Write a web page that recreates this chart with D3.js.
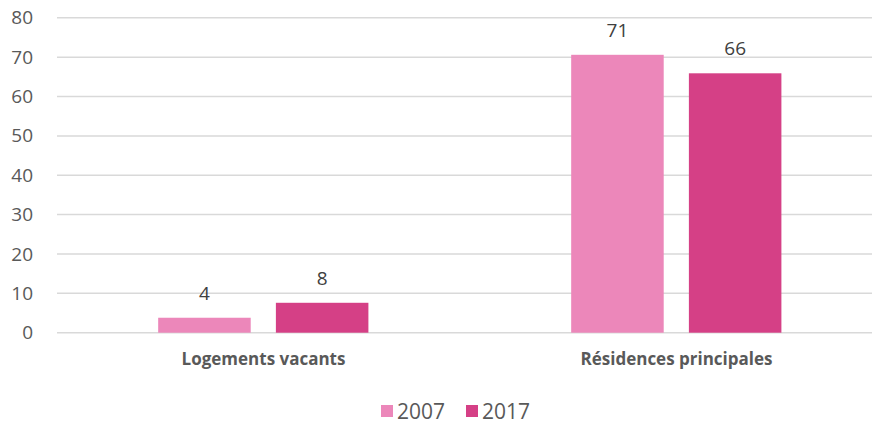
<!DOCTYPE html>
<html>
<head>
<meta charset="utf-8">
<script src="https://cdn.jsdelivr.net/npm/d3@7"></script>
<style>
  body { margin: 0; background: #fff; }
  text { font-family: "Open Sans", sans-serif; }
</style>
</head>
<body>
<svg id="chart"></svg>
<script>
var categories = ["Logements vacants", "Résidences principales"];
var years = ["2007", "2017"];
var values2007 = [3.8, 70.6];
var values2017 = [7.6, 65.9];
var yTicks = [0, 10, 20, 30, 40, 50, 60, 70, 80];
var colors = ["#EC87BA", "#D54086"];

var width = 872, height = 423;
var svg = d3.select("#chart").attr("width", width).attr("height", height);

var x = d3.scaleBand().domain(categories).range([57, 883])
          .paddingInner(0).paddingOuter(0);
var x1 = d3.scaleBand().domain(years).range([x.bandwidth() * 0.245, x.bandwidth() * 0.754])
          .paddingInner(0.214);
var y = d3.scaleLinear().domain([0, 80]).range([332.7, 17.8]);

// gridlines
svg.append("g").selectAll("line")
  .data(yTicks).enter().append("line")
  .attr("x1", 57).attr("x2", width)
  .attr("y1", function(d) { return y(d); })
  .attr("y2", function(d) { return y(d); })
  .style("stroke", "#D9D9D9").style("stroke-width", 1.5);

// y axis labels
var yAxis = d3.axisLeft(y).tickValues(yTicks).tickSize(0).tickPadding(0);
var ya = svg.append("g").attr("transform", "translate(33,0)").call(yAxis);
ya.select(".domain").remove();
ya.selectAll("text").style("font-size", "19px").style("fill", "#595959")
  .style("font-family", "'Open Sans', sans-serif");

var rows = categories.map(function(c, i) {
  return { cat: c, vals: [values2007[i], values2017[i]] };
});

var groups = svg.append("g").selectAll("g")
  .data(rows).enter().append("g")
  .attr("transform", function(d) { return "translate(" + x(d.cat) + ",0)"; });

groups.selectAll("rect")
  .data(function(d) { return d.vals.map(function(v, j) { return { year: years[j], v: v, j: j }; }); })
  .enter().append("rect")
  .attr("x", function(d) { return x1(d.year); })
  .attr("width", x1.bandwidth())
  .attr("y", function(d) { return y(d.v); })
  .attr("height", function(d) { return y(0) - y(d.v); })
  .style("fill", function(d) { return colors[d.j]; });

groups.selectAll("text.lbl")
  .data(function(d) { return d.vals.map(function(v, j) { return { year: years[j], v: v }; }); })
  .enter().append("text")
  .attr("class", "lbl")
  .attr("x", function(d) { return x1(d.year) + x1.bandwidth() / 2; })
  .attr("y", function(d) { return y(d.v) - 18; })
  .attr("text-anchor", "middle")
  .style("font-size", "19px").style("fill", "#404040")
  .text(function(d) { return Math.round(d.v); });

// category labels
var xAxis = d3.axisBottom(x).tickSize(0).tickPadding(0);
var xa = svg.append("g").attr("transform", "translate(0,353)").call(xAxis);
xa.select(".domain").remove();
xa.selectAll("text").style("font-size", "17px").style("font-weight", "bold")
  .style("fill", "#595959").style("font-family", "'Open Sans', sans-serif");
// centre labels on the bar groups
xa.selectAll(".tick").attr("transform", function(d) {
  return "translate(" + (x(d) + x.bandwidth() / 2) + ",0)";
});

// legend
var legend = svg.append("g").attr("transform", "translate(381,405)");
var lx = [0, 85];
years.forEach(function(yr, i) {
  legend.append("rect").attr("x", lx[i]).attr("y", 0).attr("width", 12).attr("height", 12)
    .style("fill", colors[i]);
  legend.append("text").attr("x", lx[i] + 16).attr("y", 13.5)
    .style("font-size", "21px").style("fill", "#595959").text(yr);
});
</script>
</body>
</html>
